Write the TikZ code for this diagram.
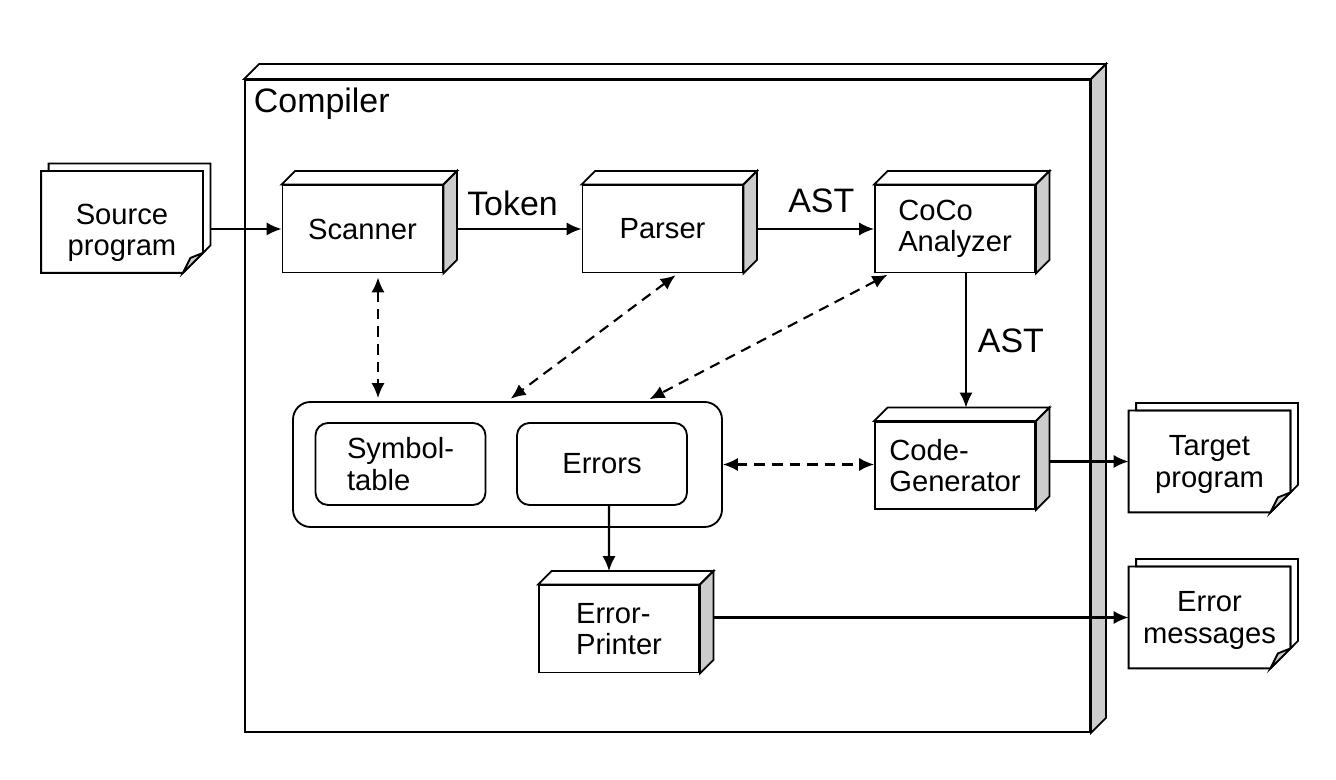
\documentclass[tikz,border=0pt]{standalone}
\usepackage{fontspec}
\setmainfont{Liberation Sans}
\usetikzlibrary{arrows.meta}
\newcommand\blocktext{\fontsize{16.6}{18}\selectfont}
\newcommand\flowtext{\fontsize{19.3}{23}\selectfont}

\begin{document}
\begin{tikzpicture}
    [
    line width=1.05pt,
    >={Latex[length=8.5pt,width=7.5pt]},
    block/.style={draw,fill=white,minimum width=3.2cm,minimum height=1.74cm,align=left,font=\blocktext},
    doc/.style={minimum width=3.2cm,minimum height=2cm},
    doctext/.style={align=center,font=\blocktext,yshift=-0.6mm},
    part/.style={draw,rounded corners=0.25cm,minimum width=3.4cm,minimum height=1.64cm,align=left,font=\blocktext},
    flow/.style={->,line width=1.2pt},
    dep/.style={<->,line width=1.2pt,dash pattern=on 6pt off 4pt},
    tag/.style={font=\flowtext},
    ]
    \useasboundingbox (0,0) rectangle (26.72,15.6);
    % compiler
    \node (comp) at (13.35,7.48) [draw,fill=white,minimum width=16.9cm,minimum height=13.04cm] {};
    \draw [fill=white] (comp.north west) -- ++(0.3,0.3) -- ([shift={(0.3,0.3)}]comp.north east) -- (comp.north east) -- cycle;
    \draw [fill=gray!40] (comp.north east) -- ++(0.3,0.3) -- ([shift={(0.3,0.3)}]comp.south east) -- (comp.south east) -- cycle;
    \node (title) at (5.06,13.34) [anchor=base west,inner sep=0pt,tag] {Compiler};
    % phases
    \node (scan) at (7.25,11.02) [block] {Scanner};
    \node (parse) at (13.25,11.02) [block] {Parser};
    \node (coco) at (19.1,11.02) [block] {CoCo\\Analyzer};
    \node (gen) at (19.1,6.29) [block] {Code-\\Generator};
    \node (prn) at (12.38,3.02) [block] {Error-\\Printer};
    \foreach \n in {scan,parse,coco,gen,prn} {
      \draw [fill=white] (\n.north west) -- ++(0.27,0.27) -- ([shift={(0.27,0.27)}]\n.north east) -- (\n.north east) -- cycle;
      \draw [fill=gray!40] (\n.north east) -- ++(0.27,0.27) -- ([shift={(0.27,0.27)}]\n.south east) -- (\n.south east) -- cycle;
    }
    % tables
    \node (store) at (10.15,6.31) [draw,rounded corners=0.35cm,minimum width=8.58cm,minimum height=2.5cm] {};
    \node (sym) at (8.01,6.32) [part] {Symbol-\\table};
    \node (err) at (12.04,6.32) [part] {Errors};
    % documents
    \node (src) at (2.44,11.16) [doc,label={[doctext,yshift=-1.6mm]center:Source\\program}] {};
    \node (tgt) at (24.19,6.37) [doc,label={[doctext]center:Target\\program}] {};
    \node (msg) at (24.19,3.25) [doc,label={[doctext]center:Error\\messages}] {};
    \foreach \n in {src,tgt,msg} {
      \draw [fill=white] ([shift={(0.15,0)}]\n.north west) -- ++(0,0.15) -- ([shift={(0.15,0.15)}]\n.north east) -- ([shift={(0.15,0.55)}]\n.south east) -- ([yshift=4mm]\n.south east) -- (\n.north east) -- cycle;
      \draw (\n.north west) -- (\n.north east) -- ([yshift=4mm]\n.south east) -- ([xshift=-4mm]\n.south east) -- (\n.south west) -- cycle;
      \draw [fill=gray!40] ([xshift=-4mm]\n.south east) -- ([yshift=4mm]\n.south east) -- ([shift={(-0.25,0.3)}]\n.south east) -- cycle;
    }
    % data flow
    \draw [flow,shorten <=1.5mm] (src.east |- scan.west) -- (scan.west);
    \draw [flow,shorten <=2.7mm] (scan.east) -- node[above=1.3mm,tag] {Token} (parse.west);
    \draw [flow,shorten <=2.7mm] (parse.east) -- node[above=1.9mm,xshift=2.5mm,tag] {AST} (coco.west);
    \draw [flow] ([xshift=2.2mm]coco.south) -- node[right=1mm,tag] {AST} ([xshift=2.2mm,yshift=2.7mm]gen.north);
    \draw [flow,shorten <=2.7mm] (gen.east |- tgt.west) -- (tgt.west);
    \draw [flow] ([xshift=1.4mm]err.south) -- ([xshift=-2mm,yshift=2.7mm]prn.north);
    \draw [flow,shorten <=2.7mm] (prn.east |- msg.west) -- (msg.west);
    % table access
    \draw [dep,shorten <=0.8mm,shorten >=0.6mm] ([xshift=3.1mm]scan.south) -- ([xshift=3.1mm]scan.south |- store.north);
    \draw [dep,shorten <=0.6mm,shorten >=0.8mm] ([xshift=3.1mm]parse.south) -- (store.north);
    \draw [dep,shorten <=0.6mm,shorten >=0.8mm] ([xshift=3.2mm]coco.south west) -- ([xshift=27.7mm]store.north);
    \draw [dep] (store.east) -- (store.east -| gen.west);
  \end{tikzpicture}
\end{document}
